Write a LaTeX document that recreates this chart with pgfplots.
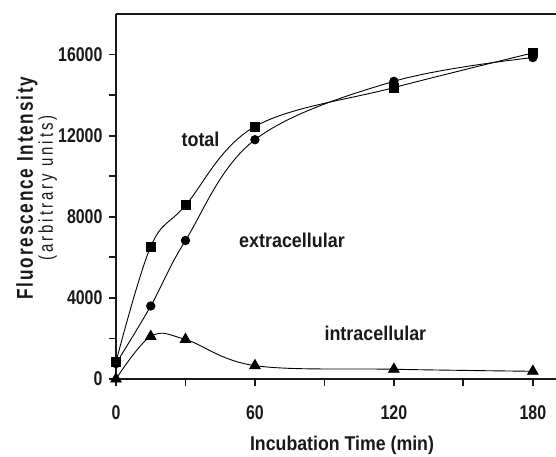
\documentclass[border=0pt]{standalone}
\usepackage{fontspec}
\setmainfont{Liberation Sans}
\newfontfamily\tickfont[FakeStretch=0.8]{Liberation Sans}
\newfontfamily\xlabfont[FakeStretch=0.89]{Liberation Sans}
\newfontfamily\ylabfont[FakeStretch=0.75,LetterSpace=8]{Liberation Sans}
\newfontfamily\ylabfontb[FakeStretch=0.75,LetterSpace=15]{Liberation Sans}
\newfontfamily\annfont[FakeStretch=0.9]{Liberation Sans}
\usepackage{pgfplots}
\pgfplotsset{compat=1.18}
\begin{document}
\begin{tikzpicture}
\begin{axis}[
  at={(0,0)}, anchor=south west,
  scale only axis, width=440bp, height=365bp,
  xmin=0, xmax=190, ymin=0, ymax=18000,
  axis x line=box, axis y line=left,
  axis line style={-, line width=2.6bp, black!90},
  xtick pos=bottom, ytick pos=left,
  tick align=outside,
  major tick length=7bp, minor tick length=7bp,
  every tick/.style={line width=1.8bp, black!90},
  xtick={0,60,120,180}, minor xtick={30,90,150},
  ytick={0,4000,8000,12000,16000}, minor ytick={2000,6000,10000,14000},
  scaled y ticks=false,
  /pgf/number format/.cd, 1000 sep={}, assume math mode=true, /pgfplots/.cd,
  ticklabel style={font=\tickfont\bfseries\fontsize{20}{20}\selectfont, text=black!90},
  xticklabel style={yshift=-16bp},
  yticklabel style={xshift=-3bp},
  clip=false,
]
\addplot[black, line width=0.9bp, smooth, tension=0.6, mark=square*, mark size=4.5bp] coordinates {
  (0,840) (15,6530) (30,8560) (60,12450) (120,14370) (180,16080)};
\addplot[black, line width=0.9bp, smooth, tension=0.6, mark=*, mark size=4.2bp] coordinates {
  (0,760) (15,3600) (30,6830) (60,11800) (120,14680) (180,15850)};
\addplot[black, line width=0.9bp, smooth, tension=0.6, mark=triangle*, mark size=6bp] coordinates {
  (0,0) (15,2100) (30,1950) (60,660) (120,480) (180,380)};
\node[font=\annfont\bfseries\fontsize{20}{20}\selectfont, text=black!90] at (axis cs:36.5,11800) {total};
\node[font=\annfont\bfseries\fontsize{20}{20}\selectfont, text=black!90] at (axis cs:76,6860) {extracellular};
\node[font=\annfont\bfseries\fontsize{20}{20}\selectfont, text=black!90] at (axis cs:112,2270) {intracellular};
\end{axis}
\node[anchor=base, font=\xlabfont\bfseries\fontsize{20}{20}\selectfont, text=black!90] at (226bp,-71bp) {Incubation Time (min)};
\node[anchor=base, rotate=90, font=\ylabfont\bfseries\fontsize{23}{23}\selectfont, text=black!90] at (-83bp,191bp) {Fluorescence Intensity};
\node[anchor=base, rotate=90, font=\ylabfontb\fontsize{20}{20}\selectfont, text=black!90] at (-63bp,191bp) {(arbitrary units)};
\pgfresetboundingbox
\useasboundingbox (-116bp,-78bp) rectangle (440bp,379bp);
\end{tikzpicture}
\end{document}
